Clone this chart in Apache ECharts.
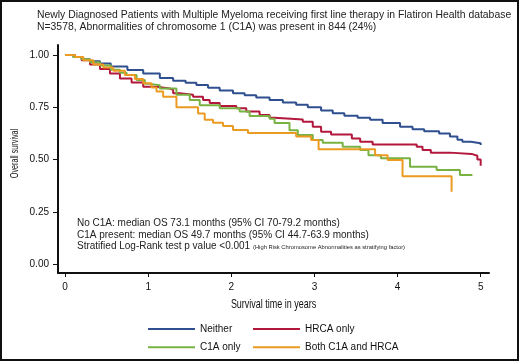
<!DOCTYPE html>
<html>
<head>
<meta charset="utf-8">
<script src="https://cdn.jsdelivr.net/npm/echarts@6/dist/echarts.min.js"></script>
<style>
  html, body { margin: 0; padding: 0; background: #fff; }
  #chart { width: 520px; height: 362px; }
</style>
</head>
<body>
<div id="chart"></div>
<script>
// survival curves (years, proportion surviving)
var neitherT = [0, 0.1, 0.2, 0.3, 0.42, 0.55, 0.75, 0.94, 1.14, 1.3, 1.45, 1.58, 1.72, 1.86, 2.02, 2.16, 2.3, 2.46, 2.62, 2.78, 2.92, 3.08, 3.22, 3.36, 3.52, 3.67, 3.82, 4.03, 4.18, 4.32, 4.5, 4.63, 4.72, 4.78, 4.88, 5.0];
var neitherS = [1.0, 0.99, 0.98, 0.97, 0.96, 0.945, 0.928, 0.912, 0.89, 0.877, 0.867, 0.857, 0.843, 0.83, 0.817, 0.807, 0.797, 0.785, 0.773, 0.762, 0.75, 0.735, 0.722, 0.71, 0.70, 0.69, 0.675, 0.657, 0.645, 0.635, 0.625, 0.61, 0.595, 0.585, 0.578, 0.57];

var hrcaT = [0, 0.12, 0.2, 0.3, 0.42, 0.54, 0.66, 0.8, 0.94, 1.1, 1.26, 1.3, 1.38, 1.54, 1.66, 1.74, 1.86, 2.06, 2.18, 2.34, 2.46, 2.52, 2.86, 2.98, 3.08, 3.2, 3.45, 3.55, 3.7, 4.23, 4.3, 4.4, 4.63, 4.89, 4.96, 5.0];
var hrcaS = [1.0, 0.99, 0.975, 0.955, 0.933, 0.912, 0.888, 0.868, 0.848, 0.84, 0.833, 0.817, 0.81, 0.80, 0.785, 0.77, 0.756, 0.745, 0.73, 0.713, 0.70, 0.692, 0.681, 0.657, 0.633, 0.62, 0.60, 0.585, 0.572, 0.561, 0.545, 0.533, 0.527, 0.518, 0.50, 0.47];

var c1aT = [0, 0.1, 0.2, 0.3, 0.42, 0.55, 0.66, 0.74, 0.86, 0.96, 1.02, 1.14, 1.34, 1.5, 1.62, 1.86, 2.1, 2.22, 2.46, 2.52, 2.7, 2.8, 2.98, 3.1, 3.34, 3.55, 3.65, 3.8, 4.15, 4.47, 4.75, 4.9];
var c1aS = [1.0, 0.99, 0.98, 0.965, 0.95, 0.93, 0.915, 0.905, 0.88, 0.862, 0.855, 0.84, 0.81, 0.785, 0.76, 0.745, 0.73, 0.708, 0.695, 0.675, 0.64, 0.617, 0.593, 0.58, 0.561, 0.545, 0.52, 0.506, 0.466, 0.45, 0.426, 0.426];

var bothT = [0, 0.12, 0.22, 0.34, 0.46, 0.58, 0.72, 0.84, 0.94, 1.04, 1.1, 1.18, 1.34, 1.6, 1.68, 1.78, 1.9, 2.02, 2.2, 2.78, 2.96, 3.05, 3.73, 3.88, 4.06, 4.65];
var bothS = [1.0, 0.99, 0.975, 0.955, 0.94, 0.925, 0.905, 0.885, 0.865, 0.845, 0.825, 0.80, 0.75, 0.72, 0.69, 0.676, 0.66, 0.641, 0.627, 0.61, 0.593, 0.549, 0.52, 0.498, 0.42, 0.346];

var xTicks = [0, 1, 2, 3, 4, 5];
var yTicks = [0, 0.25, 0.5, 0.75, 1];

var groupNames = ['Neither', 'HRCA only', 'C1A only', 'Both C1A and HRCA'];
var groupColors = ['#2f4f8f', '#b3173c', '#78b243', '#eb9a22'];

var titleLines = [
  'Newly Diagnosed Patients with Multiple Myeloma receiving first line therapy in Flatiron Health database',
  'N=3578, Abnormalities of chromosome 1 (C1A) was present in 844 (24%)'
];
var noteLines = [
  'No C1A: median OS 73.1 months (95% CI 70-79.2 months)',
  'C1A present: median OS 49.7 months (95% CI 44.7-63.9 months)',
  'Stratified Log-Rank test p value <0.001'
];
var noteSmall = '(High Risk Chromosome Abnormalities as stratifying factor)';
var xName = 'Survival time in years';
var yName = 'Overall survival';

function zip(t, s) {
  var out = [];
  for (var i = 0; i < t.length; i++) {
    out.push([t[i], s[i]]);
  }
  return out;
}

var sans = "'Liberation Sans', Arial, sans-serif";

var curves = [zip(neitherT, neitherS), zip(hrcaT, hrcaS), zip(c1aT, c1aS), zip(bothT, bothS)];
var series = [];
for (var i = 0; i < curves.length; i++) {
  series.push({
    name: groupNames[i],
    type: 'line',
    step: 'end',
    showSymbol: false,
    symbol: 'none',
    data: curves[i],
    lineStyle: { color: groupColors[i], width: 2 },
    itemStyle: { color: groupColors[i] },
    z: 3 + i
  });
}

var chart = echarts.init(document.getElementById('chart'));

var legendText = { fontSize: 10, color: '#111', lineHeight: 14 };

var option = {
  animation: false,
  backgroundColor: '#fff',
  textStyle: { fontFamily: sans },
  grid: { left: 58, right: 31, top: 45, bottom: 89 },
  xAxis: {
    type: 'value',
    min: -0.085,
    max: 5.1,
    axisLine: { onZero: false, lineStyle: { color: '#111', width: 2 } },
    axisTick: { show: true, length: 4, customValues: xTicks, lineStyle: { color: '#111', width: 1 } },
    axisLabel: { customValues: xTicks, margin: 9, fontSize: 10, color: '#111' },
    splitLine: { show: false }
  },
  yAxis: {
    type: 'value',
    min: -0.043,
    max: 1.048,
    axisLine: { show: true, onZero: false, lineStyle: { color: '#111', width: 2 } },
    axisTick: { show: true, length: 5, customValues: yTicks, lineStyle: { color: '#111', width: 1 } },
    axisLabel: {
      customValues: yTicks, margin: 9, fontSize: 10, color: '#111',
      formatter: function (v) { return v.toFixed(2); }
    },
    splitLine: { show: false }
  },
  legend: [{
    left: 148,
    top: 322,
    orient: 'vertical',
    icon: 'rect',
    itemWidth: 47,
    itemHeight: 2,
    itemGap: 4.3,
    padding: 0,
    data: [groupNames[0], groupNames[2]],
    textStyle: legendText
  }, {
    left: 253,
    top: 322,
    orient: 'vertical',
    icon: 'rect',
    itemWidth: 47,
    itemHeight: 2,
    itemGap: 4.3,
    padding: 0,
    data: [groupNames[1], groupNames[3]],
    textStyle: legendText
  }],
  graphic: [
    {
      type: 'rect',
      shape: { x: 1, y: 1, width: 517, height: 359 },
      style: { fill: 'none', stroke: '#111', lineWidth: 2 },
      silent: true
    },
    {
      type: 'text', x: 37, y: 9.5,
      style: { text: titleLines.join('\n'), font: '10.4px ' + sans, fill: '#222', lineHeight: 12, verticalAlign: 'top' }
    },
    {
      type: 'text', x: 77, y: 217.3,
      style: { text: noteLines.join('\n'), font: '10px ' + sans, fill: '#222', lineHeight: 11.7, verticalAlign: 'top' }
    },
    {
      type: 'text', x: 253, y: 247.5,
      style: { text: noteSmall, font: '5.8px ' + sans, fill: '#222', verticalAlign: 'middle' }
    },
    {
      type: 'text', x: 273.5, y: 304, scaleX: 0.69,
      style: { text: xName, font: '13px ' + sans, fill: '#111', align: 'center', verticalAlign: 'middle' }
    },
    {
      type: 'text', x: 15, y: 153.5, rotation: Math.PI / 2, scaleX: 0.63,
      style: { text: yName, font: '11.5px ' + sans, fill: '#111', align: 'center', verticalAlign: 'middle' }
    }
  ],
  series: series
};

chart.setOption(option);
</script>
</body>
</html>
